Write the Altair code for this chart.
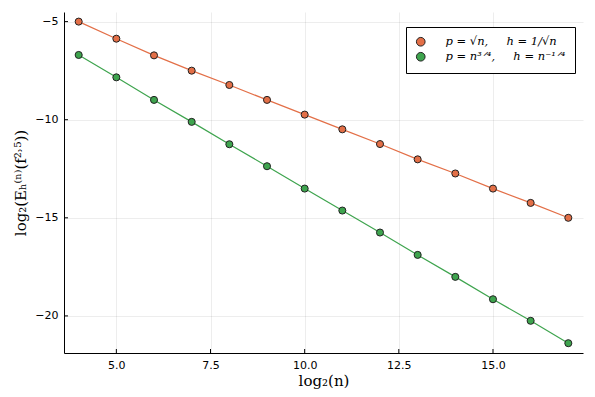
import altair as alt
import pandas as pd

log2n = list(range(4, 18))
orange_vals = [-5.00, -5.87, -6.72, -7.50, -8.23, -8.99, -9.74, -10.49, -11.24, -12.02, -12.74, -13.51, -14.24, -15.00]
green_vals = [-6.70, -7.84, -8.99, -10.11, -11.25, -12.37, -13.51, -14.63, -15.75, -16.89, -18.01, -19.15, -20.25, -21.39]
NB = "\u00a0"
series_names = ["p = √n," + NB * 5 + "h = 1/√n", "p = n³ᐟ⁴," + NB * 5 + "h = n⁻¹ᐟ⁴"]
line_keys = ["a", "b"]
colors = ["#E36F47", "#3EA44E"]
x_ticks = [5.0, 7.5, 10.0, 12.5, 15.0]
y_ticks = [-5, -10, -15, -20]

rows = []
for name, key, vals in zip(series_names, line_keys, [orange_vals, green_vals]):
    for x, y in zip(log2n, vals):
        rows.append({"x": x, "y": y, "series": name, "lk": key})
df = pd.DataFrame(rows)

W, H = 519, 341
xs = alt.Scale(domain=[3.61, 17.39], nice=False, zero=False)
ys = alt.Scale(domain=[-21.89, -4.51], nice=False, zero=False)
leg = alt.Legend(title=None, orient="none", legendX=342, legendY=15,
                 strokeColor="black", fillColor="white", padding=9,
                 symbolType="circle", symbolSize=75, symbolStrokeColor="#222",
                 symbolStrokeWidth=1, symbolOpacity=1,
                 labelFont="DejaVu Serif", labelFontStyle="italic",
                 labelFontSize=11.5, labelColor="black", labelOffset=19,
                 rowPadding=1, cornerRadius=0, labelLimit=400)

xax = alt.Axis(values=x_ticks, format=".1f", title="log₂(n)", grid=True, gridColor="#000",
               gridOpacity=0.07, tickSize=0, domainColor="black", labelFontSize=11,
               labelColor="black", labelFont="DejaVu Sans", titleFont="DejaVu Serif",
               titleFontSize=15, titleFontWeight="normal", titleColor="black", labelPadding=6,
               titlePadding=3)
yax = alt.Axis(values=y_ticks, format="d", title="log₂(Eₕ⁽ⁿ⁾(f²˒⁵))", grid=True, gridColor="#000",
               gridOpacity=0.07, tickSize=0, domainColor="black", labelFontSize=11,
               labelColor="black", labelFont="DejaVu Sans", titleFont="DejaVu Serif",
               titleFontSize=15, titleFontWeight="normal", titleColor="black", labelPadding=6,
               titlePadding=6)

base = alt.Chart(df)
lines = base.mark_line(strokeWidth=1.2).encode(
    x=alt.X("x:Q", scale=xs, axis=xax),
    y=alt.Y("y:Q", scale=ys, axis=yax),
    stroke=alt.Stroke("lk:N", scale=alt.Scale(domain=line_keys, range=colors), legend=None),
)
points = base.mark_point(filled=True, size=50, stroke="#222", strokeWidth=1, opacity=1).encode(
    x=alt.X("x:Q", scale=xs),
    y=alt.Y("y:Q", scale=ys),
    fill=alt.Fill("series:N", scale=alt.Scale(domain=series_names, range=colors), legend=leg),
)

xt = pd.DataFrame({"v": x_ticks})
yt = pd.DataFrame({"v": y_ticks})
xtick = alt.Chart(xt).mark_rule(color="black", strokeWidth=1).encode(
    x=alt.X("v:Q", scale=xs), y=alt.value(H), y2=alt.value(H - 4))
ytick = alt.Chart(yt).mark_rule(color="black", strokeWidth=1).encode(
    y=alt.Y("v:Q", scale=ys), x=alt.value(0), x2=alt.value(4))

chart = alt.layer(lines, points, xtick, ytick).properties(
    width=W, height=H,
    autosize=alt.AutoSizeParams(type="none"),
    padding={"left": 56, "top": 4, "right": 4, "bottom": 36},
).configure_view(stroke=None)

chart.save("out.html", embed_options={"renderer": "svg", "actions": False})
